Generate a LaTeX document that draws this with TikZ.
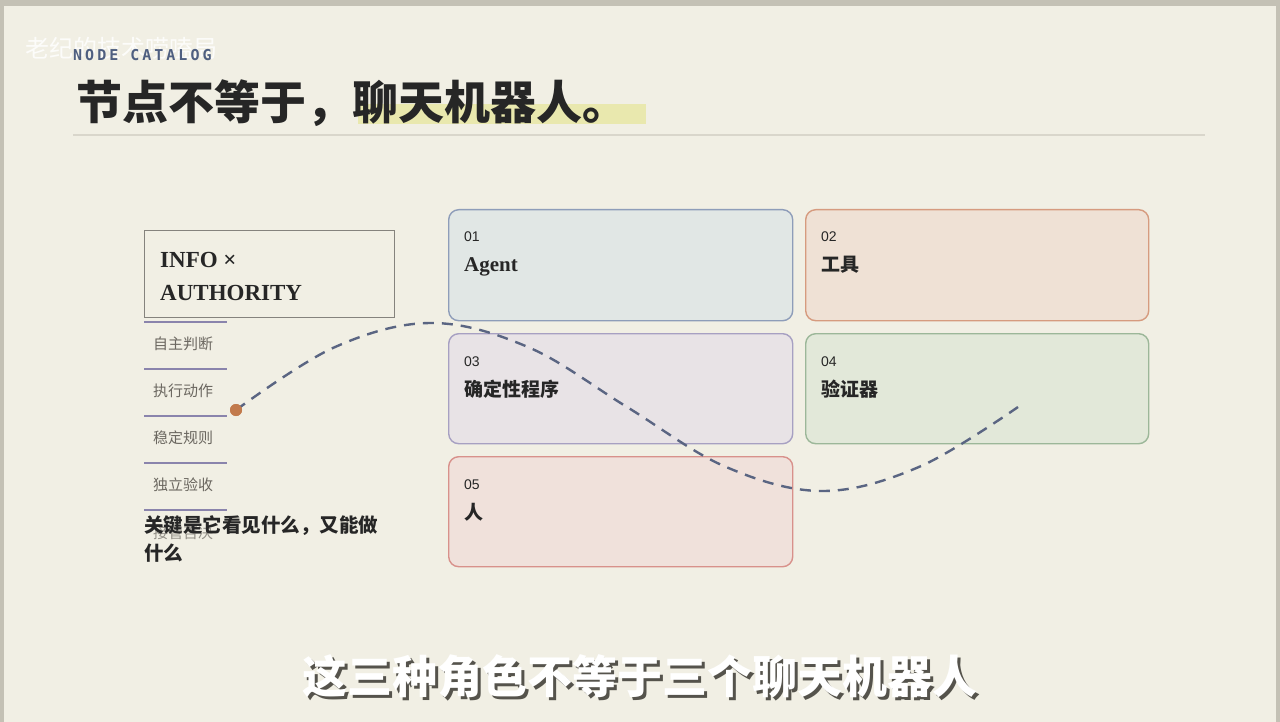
\documentclass[tikz,border=0pt]{standalone}
\usepackage{fontspec}
\setmainfont{Liberation Serif}
\newfontfamily\cjk{Noto Sans CJK SC}
\newfontfamily\numfont{Liberation Sans}
\newfontfamily\monofont{DejaVu Sans Mono}
\definecolor{bg}{HTML}{F1EFE4}
\definecolor{frame}{HTML}{C4C1B5}
\definecolor{rule}{HTML}{D9D6CB}
\definecolor{hl}{HTML}{E9E8AE}
\definecolor{ink}{HTML}{262626}
\definecolor{soft}{HTML}{6B6760}
\definecolor{listline}{HTML}{8A84AC}
\definecolor{curve}{HTML}{5A6582}
\definecolor{dotc}{HTML}{C27A4C}
\definecolor{catalog}{HTML}{4F5F80}
\definecolor{subshadow}{HTML}{55534C}
\definecolor{fA}{HTML}{E1E7E5}\definecolor{dA}{HTML}{8E9DB9}
\definecolor{fB}{HTML}{EFE1D5}\definecolor{dB}{HTML}{D69B7F}
\definecolor{fC}{HTML}{E8E3E6}\definecolor{dC}{HTML}{A7A0C2}
\definecolor{fD}{HTML}{E2E8D9}\definecolor{dD}{HTML}{9CB799}
\definecolor{fE}{HTML}{F0E1DB}\definecolor{dE}{HTML}{D8918B}
\newcommand{\subline}{这三种角色不等于三个聊天机器人}
\tikzset{
  card/.style={rounded corners=10pt, line width=1.4pt},
  cardnum/.style={anchor=base west, inner sep=0pt, font=\numfont\fontsize{14}{16}\selectfont, text=ink},
  cardtitle/.style={anchor=base west, inner sep=0pt, text=ink},
  listitem/.style={anchor=base west, inner sep=0pt, font=\cjk\fontsize{15}{17}\selectfont, text=soft},
  listrule/.style={draw=listline, line width=2pt},
  subtext/.style={anchor=base, inner sep=0pt, font=\cjk\bfseries\fontsize{45}{48}\selectfont},
}
\begin{document}
\begin{tikzpicture}[x=1pt,y=-1pt]
\useasboundingbox (0,0) rectangle (1280,722);
% background and frame
\fill[frame] (0,0) rectangle (1280,722);
\fill[bg] (4,6) rectangle (1276,722);
% watermark
\node[anchor=base west, inner sep=0pt, text=white, opacity=0.85, font=\cjk\fontsize{24}{26}\selectfont] (wm) at (25,58) {老纪的技术唠嗑局};
% heading
\node[anchor=base west, inner sep=0pt, text=catalog, font=\monofont\bfseries\fontsize{15}{17}\selectfont\addfontfeature{LetterSpace=20}] (cat) at (73,61) {NODE CATALOG};
\fill[hl] (358,104) rectangle (646,124);
\node[anchor=base west, inner sep=0pt, text=ink, font=\cjk\bfseries\fontsize{46}{50}\selectfont] (title) at (76,120) {节点不等于，聊天机器人。};
\draw[rule, line width=2pt] (73,135) -- (1205,135);
% info box
\node[draw=black!45!bg, line width=1.2pt, minimum width=250pt, minimum height=87pt, anchor=north west, inner sep=0pt] (info) at (144,230) {};
\node[anchor=base west, inner sep=0pt, text=ink, font=\bfseries\fontsize{23}{26}\selectfont] (info1) at (160,268) {INFO ×};
\node[anchor=base west, inner sep=0pt, text=ink, font=\bfseries\fontsize{23}{26}\selectfont] (info2) at (160,300) {AUTHORITY};
% list
\draw[listrule] (144,322) -- (227,322);
\draw[listrule] (144,369) -- (227,369);
\draw[listrule] (144,416) -- (227,416);
\draw[listrule] (144,463) -- (227,463);
\draw[listrule] (144,510) -- (227,510);
\node[listitem] (l1) at (153,349) {自主判断};
\node[listitem] (l2) at (153,396) {执行动作};
\node[listitem] (l3) at (153,443) {稳定规则};
\node[listitem] (l4) at (153,490) {独立验收};
\node[listitem, text=soft!70!bg] (l5) at (153,538) {接管否决};
\node[anchor=base west, inner sep=0pt, text=ink, font=\cjk\bfseries\fontsize{19.5}{22}\selectfont] (key1) at (144,532) {关键是它看见什么，又能做};
\node[anchor=base west, inner sep=0pt, text=ink, font=\cjk\bfseries\fontsize{19.5}{22}\selectfont] (key2) at (144,560) {什么};
% cards
\node[card, fill=fA, draw=dA, minimum width=344pt, minimum height=111pt, anchor=north west] (c1) at (448,209) {};
\node[card, fill=fB, draw=dB, minimum width=343pt, minimum height=111pt, anchor=north west] (c2) at (805,209) {};
\node[card, fill=fC, draw=dC, minimum width=344pt, minimum height=110pt, anchor=north west] (c3) at (448,333) {};
\node[card, fill=fD, draw=dD, minimum width=343pt, minimum height=110pt, anchor=north west] (c4) at (805,333) {};
\node[card, fill=fE, draw=dE, minimum width=344pt, minimum height=110pt, anchor=north west] (c5) at (448,456) {};
\node[cardnum] (n1) at (464,242) {01};
\node[cardtitle, font=\bfseries\fontsize{21}{24}\selectfont] (t1) at (464,272) {Agent};
\node[cardnum] (n2) at (821,242) {02};
\node[cardtitle, font=\cjk\bfseries\fontsize{19}{22}\selectfont] (t2) at (821,272) {工具};
\node[cardnum] (n3) at (464,366) {03};
\node[cardtitle, font=\cjk\bfseries\fontsize{19}{22}\selectfont] (t3) at (464,396) {确定性程序};
\node[cardnum] (n4) at (821,366) {04};
\node[cardtitle, font=\cjk\bfseries\fontsize{19}{22}\selectfont] (t4) at (821,396) {验证器};
\node[cardnum] (n5) at (464,489) {05};
\node[cardtitle, font=\cjk\bfseries\fontsize{19}{22}\selectfont] (t5) at (464,519) {人};
% dashed wave
\coordinate (w1) at (333.75,347.6);
\coordinate (w2) at (431.5,323);
\coordinate (w3) at (529.25,347.6);
\coordinate (w4) at (627,407);
\coordinate (w5) at (724.75,466.4);
\coordinate (w6) at (822.5,491);
\coordinate (w7) at (920.25,466.4);
\coordinate (wend) at (1018,407);
\node[circle, fill=dotc, minimum size=12pt, inner sep=0pt] (dot) at (236,410) {};
\draw[curve, line width=2.4pt, dash pattern=on 11pt off 8pt] plot[smooth, tension=0.6] coordinates {(dot.center) (w1) (w2) (w3) (w4) (w5) (w6) (w7) (wend)};
\node[circle, fill=dotc, minimum size=12pt, inner sep=0pt] at (dot) {};
% subtitle (shadow and text in one node)
\node[subtext, text=white] (sub) at (640,693) {\makebox[0pt][l]{\hspace{3pt}\raisebox{-3pt}[0pt][0pt]{\textcolor{subshadow}{\subline}}}\subline};
\end{tikzpicture}
\end{document}
